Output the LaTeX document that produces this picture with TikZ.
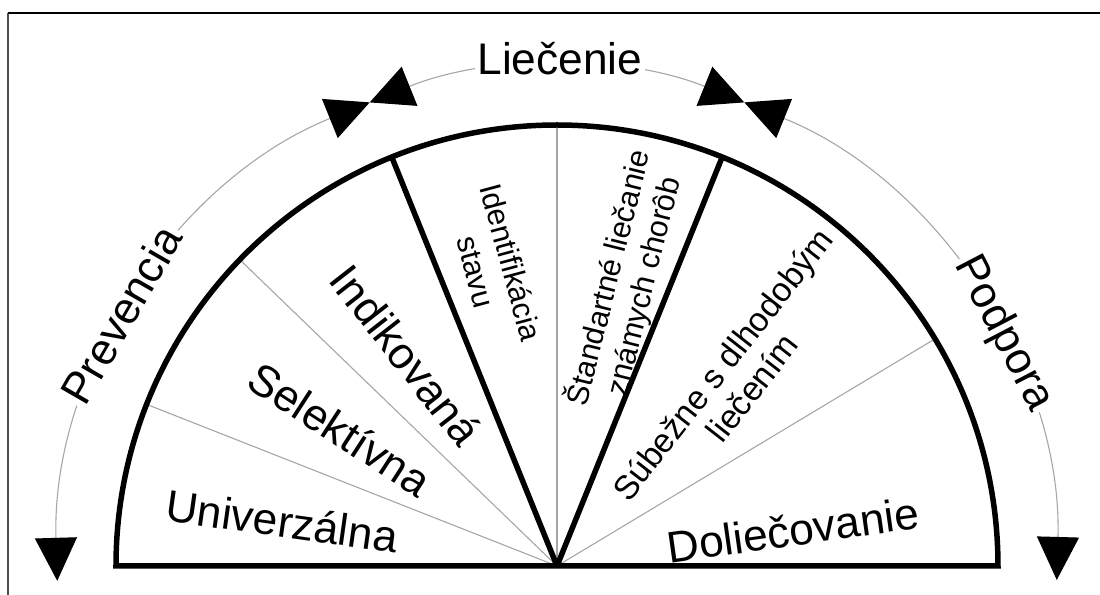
\documentclass[tikz,border=0pt]{standalone}
\usepackage{fontspec}
\setmainfont{Liberation Sans}
\usetikzlibrary{arrows.meta}
\begin{document}
\begin{tikzpicture}[x=0.02cm,y=0.02cm,
  big/.style={font=\fontsize{25.2}{30}\selectfont, inner sep=0pt},
  small/.style={font=\fontsize{17.4}{20.5}\selectfont, align=center, inner sep=0pt},
  mid/.style={font=\fontsize{19.2}{21.5}\selectfont, align=center, inner sep=0pt},
  arcline/.style={draw=black!35, line width=0.022cm},
  thickline/.style={line width=0.11cm, line join=miter},
  thinline/.style={draw=black!35, line width=0.022cm},
  bitip/.style={{Triangle[length=0.86cm,width=0.84cm,color=black]}-{Triangle[length=0.86cm,width=0.84cm,color=black]}},
  arclabel/.style={big, fill=white, inner sep=1.5pt}
]
\useasboundingbox (-557,-29) rectangle (543,566);
% frame
\draw[line width=0.025cm, black!70] (-549,-29) -- (-549,553);
\draw[line width=0.025cm] (-549,553) -- (543,553);

% centre
\coordinate (O) at (0,0);

% thin sector lines
\draw[thinline] (O) -- (90:439);
\draw[thinline] (O) -- (136:439);
\draw[thinline] (O) -- (158.5:439);
\draw[thinline] (O) -- (31:439);

% thick sector lines and outline
\draw[thickline] (O) -- (112:441);
\draw[thickline] (O) -- (68:441);
\draw[thickline] (-441,0) arc[start angle=180,end angle=0,radius=441] -- cycle;

% outer arrows
\draw[arcline,bitip] (181.7:500) arc[start angle=181.7,end angle=112,radius=500];
\draw[arcline,bitip] (112:500) arc[start angle=112,end angle=68,radius=500];
\draw[arcline,bitip] (68:500) arc[start angle=68,end angle=-1.6,radius=500];

% outer labels
\node[arclabel, anchor=base] (liecenie) at (3,491.5) {Liečenie};
\node[arclabel, rotate=60] (prevencia) at (150:503) {Prevencia};
\node[arclabel, rotate=-62.5] (podpora) at (27.5:503) {Podpora};

% sector labels
\node[big, rotate=-8] (univ) at (-275,45) {Univerzálna};
\node[big, rotate=-33] (sel) at (-217,137) {Selektívna};
\node[big, rotate=-52] (ind) at (-151,211) {Indikovaná};
\node[small, rotate=-75] (ident) at (-63,299) {Identifikácia\\stavu};
\node[small, rotate=76] (stand) at (69,284) {Štandartné liečanie\\známych chorôb};
\node[mid, rotate=52] (sub) at (180,190) {Súbežne s dlhodobým\\liečením};
\node[big, rotate=8] (dol) at (236,36) {Doliečovanie};
\end{tikzpicture}
\end{document}
